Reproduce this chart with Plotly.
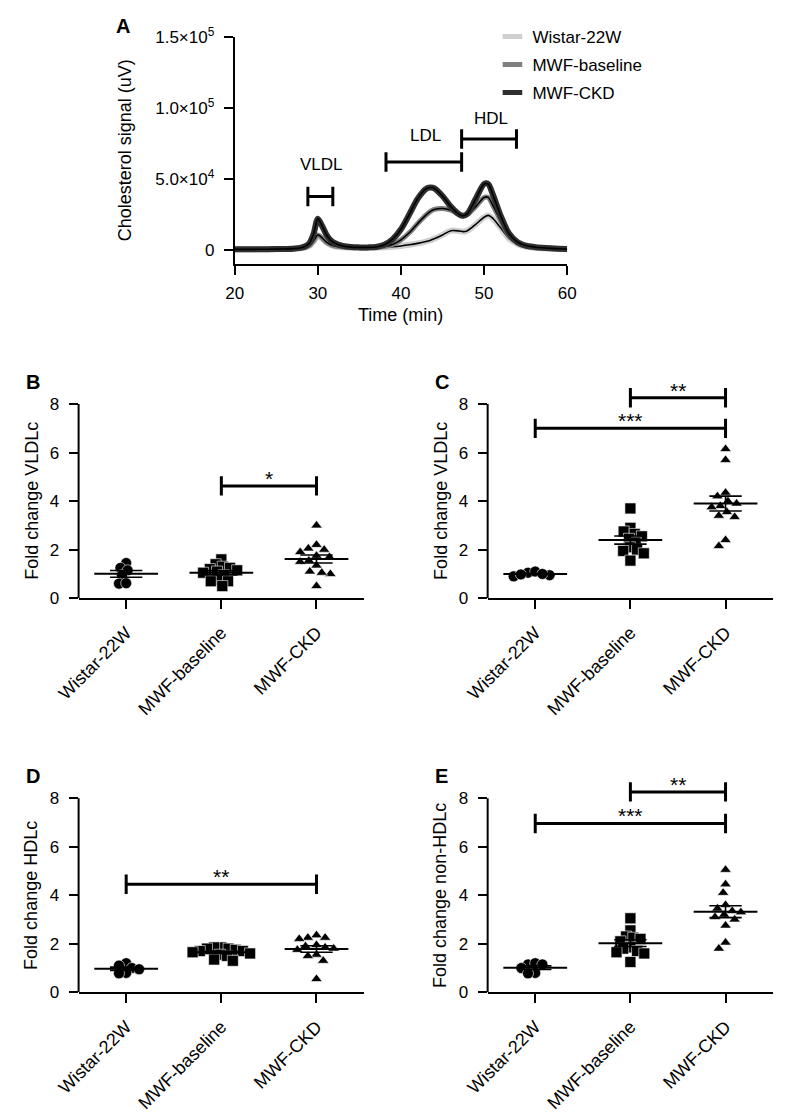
import numpy as np
import plotly.graph_objects as go

W, H = 785, 1116
FONT = "Liberation Sans, Arial, Helvetica, sans-serif"

# ---------------- Panel A: cholesterol elution profiles ----------------
time_min = [20, 22, 24, 26, 27, 28, 28.5, 29, 29.5, 30, 30.5, 31, 31.5, 32,
            33, 34, 35, 36, 37, 38, 39, 40, 41, 42, 43, 43.5, 44, 45, 46, 47,
            47.5, 48, 49, 50, 50.5, 51, 52, 53, 54, 55, 56, 57, 58, 59, 60]
signal_wistar = [200, 250, 350, 500, 700, 1100, 1700, 2800, 6000, 9500, 8000,
                 5200, 3500, 2500, 1700, 1400, 1300, 1300, 1400, 1700, 2100,
                 2700, 3500, 4500, 5800, 6600, 7800, 10500, 13500, 13300,
                 12800, 13500, 18000, 23000, 24300, 22500, 15500, 8000, 4000,
                 2200, 1400, 1000, 700, 500, 300]
signal_baseline = [300, 300, 400, 600, 800, 1200, 1800, 3000, 6500, 10500,
                   8500, 5500, 3700, 2700, 1900, 1600, 1500, 1500, 1700, 2300,
                   3800, 7000, 12000, 18500, 24500, 27000, 28500, 29200,
                   28000, 25000, 24000, 25000, 30500, 37000, 37000, 32000,
                   20500, 10000, 4800, 2700, 1800, 1300, 900, 600, 400]
signal_ckd = [300, 300, 400, 600, 800, 1500, 2500, 4800, 11500, 22000, 17000,
              11000, 7000, 4800, 2700, 1900, 1700, 1700, 2000, 3500, 7500,
              14500, 25000, 36000, 43000, 44000, 43500, 38000, 30500, 25000,
              24000, 25500, 36000, 46500, 46500, 40000, 24000, 11500, 5500,
              3000, 2000, 1400, 1000, 700, 500]

fraction_labels = ["VLDL", "LDL", "HDL"]
fraction_start = [28.8, 38.2, 47.3]
fraction_end = [31.8, 47.3, 53.9]
fraction_level = [37700, 62000, 78200]
fraction_label_x = [30.4, 42.9, 50.85]
fraction_label_y = [60400, 81000, 92800]

a_yticks = [0, 50000, 100000, 150000]
a_yticktext = ["0", "5.0×10<sup>4</sup>", "1.0×10<sup>5</sup>", "1.5×10<sup>5</sup>"]
a_xticks = [20, 30, 40, 50, 60]

# ---------------- Panels B-E: fold changes ----------------
groups = ["Wistar-22W", "MWF-baseline", "MWF-CKD"]

vldl_wistar = [1.45, 1.25, 1.15, 0.95, 0.6, 0.62]
vldl_baseline = [1.6, 1.4, 1.3, 1.25, 1.2, 1.15, 1.1, 1.05, 0.95, 0.75, 0.7, 0.7, 0.5]
vldl_ckd = [3.0, 2.2, 2.05, 2.0, 1.9, 1.75, 1.7, 1.55, 1.5, 1.35, 1.1, 1.0, 1.05, 0.5]

c_wistar = [1.05, 1.1, 0.95, 0.9, 1.0, 0.98]
c_baseline = [3.7, 2.9, 2.75, 2.65, 2.55, 2.45, 2.3, 2.1, 2.0, 1.95, 1.85, 1.55]
c_ckd = [6.15, 5.7, 4.35, 4.2, 4.0, 3.9, 3.8, 3.75, 3.55, 3.4, 3.35, 2.4, 2.15]

hdl_wistar = [1.2, 1.1, 1.0, 0.95, 0.8, 0.78]
hdl_baseline = [1.85, 1.85, 1.8, 1.8, 1.75, 1.7, 1.7, 1.65, 1.6, 1.55, 1.5, 1.35, 1.3]
hdl_ckd = [2.35, 2.25, 2.25, 2.2, 1.95, 1.9, 1.85, 1.8, 1.75, 1.55, 1.5, 1.3, 0.55]

nonhdl_wistar = [1.15, 1.2, 1.15, 1.0, 0.8, 0.78]
nonhdl_baseline = [3.05, 2.55, 2.3, 2.25, 2.2, 2.1, 1.85, 1.8, 1.7, 1.65, 1.6, 1.25]
nonhdl_ckd = [5.05, 4.45, 4.1, 3.6, 3.45, 3.35, 3.3, 3.2, 3.1, 3.0, 2.75, 2.05, 1.8]

# comparisons: (group i, group j, label, bracket level)
sig_b = [(1, 2, "*", 4.63)]
sig_c = [(0, 2, "***", 7.0), (1, 2, "**", 8.26)]
sig_d = [(0, 2, "**", 4.45)]
sig_e = [(0, 2, "***", 6.96), (1, 2, "**", 8.26)]

fold_yticks = [0, 2, 4, 6, 8]


# ---------------- geometry helpers (page pixels -> paper fraction) ----------------
def px(x):
    return x / W


def py(y):
    return 1 - y / H


fig = go.Figure()

# ---- Panel A traces
band_colors = ["#cfcfcf", "#808080", "#2f2f2f"]
band_widths = [6, 5, 6]
for sig, col, bw in zip([signal_wistar, signal_baseline, signal_ckd], band_colors, band_widths):
    fig.add_trace(go.Scatter(x=time_min, y=sig, mode="lines", xaxis="x", yaxis="y",
                             line=dict(color=col, width=bw, shape="spline", smoothing=0.8),
                             showlegend=False, hoverinfo="skip"))
    fig.add_trace(go.Scatter(x=time_min, y=sig, mode="lines", xaxis="x", yaxis="y",
                             line=dict(color="#000000", width=1.6, shape="spline", smoothing=0.8),
                             showlegend=False, hoverinfo="skip"))

for g, col in zip(groups, band_colors):
    fig.add_trace(go.Scatter(x=[None], y=[None], mode="markers", xaxis="x", yaxis="y",
                             name=g, legendgroup=g,
                             marker=dict(symbol="line-ew", size=14, color=col,
                                         line=dict(width=5, color=col))))

shapes = []
annotations = []
CAP_A = 6900
for lab, s, e, lv, lx, ly in zip(fraction_labels, fraction_start, fraction_end,
                                 fraction_level, fraction_label_x, fraction_label_y):
    for (x0, y0, x1, y1) in [(s, lv, e, lv), (s, lv - CAP_A, s, lv + CAP_A), (e, lv - CAP_A, e, lv + CAP_A)]:
        shapes.append(dict(type="line", xref="x", yref="y", x0=x0, y0=y0, x1=x1, y1=y1,
                           line=dict(color="black", width=3)))
    annotations.append(dict(text=lab, x=lx, y=ly, xref="x", yref="y", showarrow=False,
                            xanchor="center", yanchor="middle",
                            font=dict(size=17, color="black", family=FONT)))

# ---- Panels B-E
PPU_X = 298 / 3.0
PPU_Y = 24.75


def swarm_offsets(values, diam):
    vals = np.asarray(values, float)
    order = np.argsort(-vals, kind="stable")
    placed = []
    offs = np.zeros(len(vals))
    for i in order:
        yp = vals[i] * PPU_Y
        chosen = 0.0
        for k in range(0, 600):
            cands = (0.0,) if k == 0 else (-0.5 * k, 0.5 * k)
            ok = None
            for c in cands:
                if all((c - a) ** 2 + (yp - b) ** 2 >= diam ** 2 for a, b in placed):
                    ok = c
                    break
            if ok is not None:
                chosen = ok
                break
        placed.append((chosen, yp))
        offs[i] = chosen / PPU_X
    return offs


symbols = ["circle", "square", "triangle-up"]
sizes = [11, 11, 10]
collide = [7.5, 7.5, 9.0]

panels = [
    dict(letter="B", title="Fold change VLDLc", data=[vldl_wistar, vldl_baseline, vldl_ckd],
         ax="2", left=57, zero=598, sig=sig_b),
    dict(letter="C", title="Fold change VLDLc", data=[c_wistar, c_baseline, c_ckd],
         ax="3", left=484, zero=598, sig=sig_c),
    dict(letter="D", title="Fold change HDLc", data=[hdl_wistar, hdl_baseline, hdl_ckd],
         ax="4", left=57, zero=1000, sig=sig_d),
    dict(letter="E", title="Fold change non-HDLc", data=[nonhdl_wistar, nonhdl_baseline, nonhdl_ckd],
         ax="5", left=484, zero=1000, sig=sig_e),
]

layout_axes = {}
for p in panels:
    xa, ya = "x" + p["ax"], "y" + p["ax"]
    for gi, vals in enumerate(p["data"]):
        offs = swarm_offsets(vals, collide[gi])
        fig.add_trace(go.Scatter(x=gi + offs, y=vals, mode="markers", xaxis=xa, yaxis=ya,
                                 marker=dict(symbol=symbols[gi], size=sizes[gi], color="black",
                                             line=dict(color="white", width=0.6)),
                                 showlegend=False, hoverinfo="skip", cliponaxis=False))
    for gi, vals in enumerate(p["data"]):
        v = np.asarray(vals, float)
        m = v.mean()
        se = v.std(ddof=1) / np.sqrt(len(v))
        fig.add_trace(go.Scatter(x=[gi - 0.335, gi + 0.335], y=[m, m], mode="lines",
                                 xaxis=xa, yaxis=ya, line=dict(color="black", width=2),
                                 showlegend=False, hoverinfo="skip"))
        fig.add_trace(go.Scatter(x=[gi - 0.17, gi + 0.17, None, gi - 0.17, gi + 0.17, None, gi, gi],
                                 y=[m + se, m + se, None, m - se, m - se, None, m - se, m + se],
                                 mode="lines", xaxis=xa, yaxis=ya,
                                 line=dict(color="black", width=1.6),
                                 showlegend=False, hoverinfo="skip"))
    # significance brackets
    for (i, j, lab, lv) in p["sig"]:
        for (x0, y0, x1, y1) in [(i, lv, j, lv), (i, lv - 0.4, i, lv + 0.4), (j, lv - 0.4, j, lv + 0.4)]:
            shapes.append(dict(type="line", xref=xa, yref=ya, x0=x0, y0=y0, x1=x1, y1=y1,
                               line=dict(color="black", width=3)))
        annotations.append(dict(text=lab, x=(i + j) / 2, y=lv, xref=xa, yref=ya,
                                xanchor="center", yanchor="bottom",
                                showarrow=False, yshift=-6,
                                font=dict(size=21, color="black", family=FONT)))
    # y spine 0..8
    shapes.append(dict(type="line", xref=xa + " domain", yref=ya, x0=0, x1=0, y0=0, y1=8,
                       line=dict(color="black", width=2)))
    top = p["zero"] - 9 * PPU_Y
    layout_axes["xaxis" + p["ax"]] = dict(
        domain=[px(p["left"]), px(p["left"] + 298)], anchor=ya, range=[-0.5, 2.5],
        tickvals=[0, 1, 2], ticktext=groups, tickangle=-45, showline=True, linewidth=2,
        linecolor="black", ticks="outside", ticklen=9, tickwidth=2, tickcolor="black",
        showgrid=False, zeroline=False, ticklabelstandoff=6,
        tickfont=dict(size=18, color="black", family=FONT), fixedrange=True)
    layout_axes["yaxis" + p["ax"]] = dict(
        domain=[py(p["zero"]), py(top)], anchor=xa, range=[0, 9], tickvals=fold_yticks,
        showline=False, ticks="outside", ticklen=9, tickwidth=2, tickcolor="black",
        showgrid=False, zeroline=False, ticklabelstandoff=6,
        tickfont=dict(size=17, color="black", family=FONT), fixedrange=True)
    mid_y = p["zero"] - 4 * PPU_Y
    annotations.append(dict(text=p["title"], x=px(p["left"] - 49), y=py(mid_y), xref="paper",
                            yref="paper", textangle=-90, showarrow=False,
                            xanchor="center", yanchor="middle",
                            font=dict(size=18, color="black", family=FONT)))
    annotations.append(dict(text="<b>" + p["letter"] + "</b>", x=px(p["left"] - 48),
                            y=py(p["zero"] - 221), xref="paper", yref="paper", showarrow=False,
                            xanchor="center", yanchor="middle",
                            font=dict(size=20, color="black", family=FONT)))

# Panel A axes
layout_axes["xaxis"] = dict(domain=[px(220), px(567)], anchor="y", range=[20, 60],
                            tickvals=a_xticks, showline=True, linewidth=2, linecolor="black",
                            ticks="outside", ticklen=9, tickwidth=2, tickcolor="black",
                            showgrid=False, zeroline=False, ticklabelstandoff=4,
                            tickfont=dict(size=17, color="black", family=FONT))
layout_axes["yaxis"] = dict(domain=[py(257), py(26)], anchor="x", range=[-10000, 150000],
                            tickvals=a_yticks, ticktext=a_yticktext, showline=True, linewidth=2,
                            linecolor="black", ticks="outside", ticklen=9, tickwidth=2,
                            tickcolor="black", showgrid=False, zeroline=False,
                            ticklabelstandoff=6,
                            tickfont=dict(size=17, color="black", family=FONT))
annotations.append(dict(text="Cholesterol signal (uV)", x=px(105), y=py(141.5), xref="paper",
                        yref="paper", textangle=-90, showarrow=False,
                        xanchor="center", yanchor="middle",
                        font=dict(size=18, color="black", family=FONT)))
annotations.append(dict(text="Time (min)", x=px(393.5), y=py(309), xref="paper", yref="paper",
                        showarrow=False, xanchor="center", yanchor="middle",
                        font=dict(size=18, color="black", family=FONT)))
annotations.append(dict(text="<b>A</b>", x=px(103), y=py(14), xref="paper", yref="paper",
                        showarrow=False, xanchor="center", yanchor="middle",
                        font=dict(size=20, color="black", family=FONT)))

fig.update_layout(
    width=W, height=H, margin=dict(l=0, r=0, t=0, b=0),
    paper_bgcolor="white", plot_bgcolor="white",
    font=dict(family=FONT, color="black", size=17),
    shapes=shapes, annotations=annotations,
    legend=dict(x=px(489), y=py(7), xanchor="left", yanchor="top", tracegroupgap=3,
                bgcolor="rgba(0,0,0,0)", font=dict(size=17, color="black", family=FONT)),
    **layout_axes,
)

# remove the browser's default 8px body margin so the figure sits at the page origin;
# static plot: no modebar or hover overlays in the photograph
fig.write_html("out.html", config={"staticPlot": True, "displayModeBar": False},
               post_script="document.body.style.margin='0px';")
